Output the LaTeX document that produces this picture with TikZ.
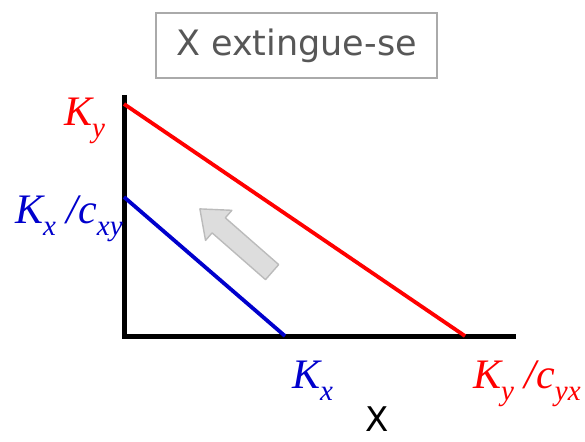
\documentclass[tikz,border=0pt]{standalone}
\usepackage{fontspec}
\usepackage{xcolor}
\setmainfont{Liberation Serif}
\newfontfamily\titlefont{DejaVu Sans}
\definecolor{line-red}{HTML}{FF0000}
\definecolor{line-blue}{HTML}{0000CC}
\definecolor{box-gray}{HTML}{AAAAAA}
\definecolor{title-gray}{HTML}{575757}
\definecolor{arrow-fill}{HTML}{DDDDDD}
\definecolor{arrow-edge}{HTML}{BBBBBB}
\newcommand{\lowsub}[1]{\raisebox{-0.3em}{\fontsize{29}{31}\selectfont #1}}

\begin{document}
\begin{tikzpicture}[x=1pt, y=-1pt,
    every node/.style={inner sep=0pt},
    klabel/.style={font=\fontsize{42}{46}\selectfont\itshape},
    axisline/.style={line width=5pt, black},
    isocline/.style={line width=3.8pt}]
  \useasboundingbox (0,0) rectangle (585,441);
  % axes
  \coordinate (top) at (124,95);
  \coordinate (orig) at (124,336);
  \coordinate (right) at (516,336);
  \draw[axisline] (top) -- (orig) -- (right);
  % isoclines
  \coordinate (ky) at (124,104);
  \coordinate (kycyx) at (465,336);
  \coordinate (kxcxy) at (124,197);
  \coordinate (kx) at (285,336);
  \draw[isocline, line-red] (ky) -- (kycyx);
  \draw[isocline, line-blue] (kxcxy) -- (kx);
  % title
  \node[draw=box-gray, line width=1.4pt, minimum width=281pt, minimum height=65pt,
        text=title-gray, font=\titlefont\fontsize{35}{40}\selectfont] (title) at (296.5,45.5) {X extingue-se};
  % labels
  \node[klabel, text=line-red, anchor=base west] (lky) at (64,125) {K\lowsub{y}};
  \node[klabel, text=line-blue, anchor=base west] (lkx) at (15,223) {K\lowsub{x} /c\lowsub{xy}};
  \node[klabel, text=line-blue, anchor=base west] (lkxb) at (292,388) {K\lowsub{x}};
  \node[klabel, text=line-red, anchor=base west] (lkyb) at (473,388) {K\lowsub{y} /c\lowsub{yx}};
  \node[font=\titlefont\fontsize{34}{38}\selectfont, anchor=base] (xlab) at (377,431) {X};
  % shift arrow
  \begin{scope}[shift={(236,240.5)}, rotate=138.8]
    \draw[fill=arrow-fill, draw=arrow-edge, line width=1.4pt, line join=round]
      (-48,-10) -- (23,-10) -- (23,-20) -- (48,0) -- (23,20) -- (23,10) -- (-48,10) -- cycle;
  \end{scope}
\end{tikzpicture}
\end{document}
